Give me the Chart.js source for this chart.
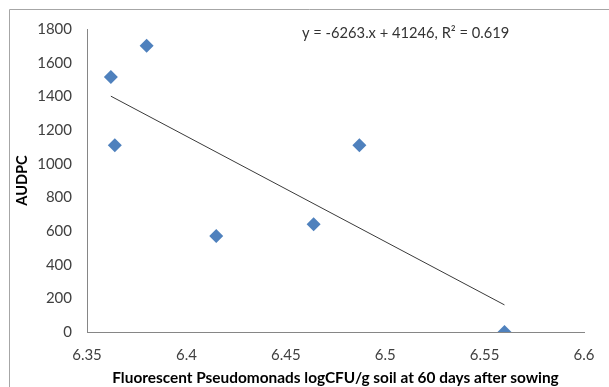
<!DOCTYPE html>
<html>
<head>
<meta charset="utf-8">
<script src="https://cdn.jsdelivr.net/npm/chart.js@4.4.1/dist/chart.umd.min.js"></script>
<style>
html,body{margin:0;padding:0;background:#fff;}
#wrap{position:relative;width:609px;height:387px;}
</style>
</head>
<body>
<div id="wrap"><canvas id="c" width="609" height="387"></canvas></div>
<script>
// Observed data
const xValues = [6.362, 6.380, 6.364, 6.415, 6.464, 6.487, 6.560];
const audpc   = [1515, 1700, 1110, 570, 640, 1110, 0];
// Trend line endpoints (as drawn)
const trendX = [6.362, 6.560];
const trendY = [1401, 161];
const yTicks = [0, 200, 400, 600, 800, 1000, 1200, 1400, 1600, 1800];
const xTicks = [6.35, 6.4, 6.45, 6.5, 6.55, 6.6];
const equationText = 'y = -6263.x + 41246, R² = 0.619';

const FONT = 'Lato, "Open Sans", sans-serif';
const TXT = '#404040';
const AXIS = '#868686';

const frame = {
  id: 'frame',
  beforeDraw(chart) {
    const ctx = chart.ctx;
    ctx.save();
    ctx.strokeStyle = '#a6a6a6';
    ctx.lineWidth = 1;
    ctx.beginPath();
    ctx.moveTo(9.5, 400);
    ctx.lineTo(9.5, 9.5);
    ctx.lineTo(620, 9.5);
    ctx.stroke();
    ctx.restore();
  },
  afterDraw(chart) {
    const ctx = chart.ctx;
    ctx.save();
    ctx.fillStyle = '#333333';
    ctx.font = '14.7px ' + FONT;
    ctx.textBaseline = 'middle';
    ctx.textAlign = 'left';
    ctx.fillText(equationText, 302, 33);
    ctx.restore();
  }
};

new Chart(document.getElementById('c'), {
  type: 'scatter',
  data: {
    datasets: [
      {
        label: 'AUDPC',
        data: xValues.map((x, i) => ({x: x, y: audpc[i]})),
        pointStyle: 'rectRot',
        pointRadius: 7,
        pointHoverRadius: 7,
        backgroundColor: '#4F81BD',
        borderColor: '#4F81BD',
        borderWidth: 0,
        order: 1
      },
      {
        label: 'Linear',
        type: 'line',
        data: trendX.map((x, i) => ({x: x, y: trendY[i]})),
        borderColor: '#3a3a3a',
        borderWidth: 1,
        pointRadius: 0,
        fill: false,
        tension: 0,
        order: 2
      }
    ]
  },
  options: {
    responsive: false,
    animation: false,
    layout: {padding: {top: 29, right: 25, left: 0, bottom: 0}},
    plugins: {legend: {display: false}, tooltip: {enabled: false}},
    scales: {
      x: {
        type: 'linear',
        min: 6.35, max: 6.6,
        afterBuildTicks(scale) { scale.ticks = xTicks.map(v => ({value: v})); },
        afterFit(scale) { scale.height = 55; },
        border: {display: true, color: AXIS, width: 1},
        grid: {display: false, drawOnChartArea: false, drawTicks: true, tickLength: 5, color: AXIS},
        ticks: {
          color: TXT, font: {family: FONT, size: 15}, padding: 9,
          callback: v => String(Number(v.toFixed(2)))
        },
        title: {
          display: true,
          text: 'Fluorescent Pseudomonads logCFU/g soil at 60 days after sowing',
          color: '#000', font: {family: FONT, size: 15.4, weight: 'bold'},
          padding: {top: 0, bottom: 0}
        }
      },
      y: {
        type: 'linear',
        min: 0, max: 1800,
        afterBuildTicks(scale) { scale.ticks = yTicks.map(v => ({value: v})); },
        afterFit(scale) { scale.width = 87; },
        border: {display: true, color: AXIS, width: 1},
        grid: {display: false, drawOnChartArea: false, drawTicks: true, tickLength: 5, color: AXIS},
        ticks: {color: TXT, font: {family: FONT, size: 15}, padding: 10, callback: v => String(v)},
        title: {
          display: true, text: 'AUDPC',
          color: '#000', font: {family: FONT, size: 14.6, weight: 'bold'},
          padding: {top: 14, bottom: 0}
        }
      }
    }
  },
  plugins: [frame]
});
</script>
</body>
</html>
